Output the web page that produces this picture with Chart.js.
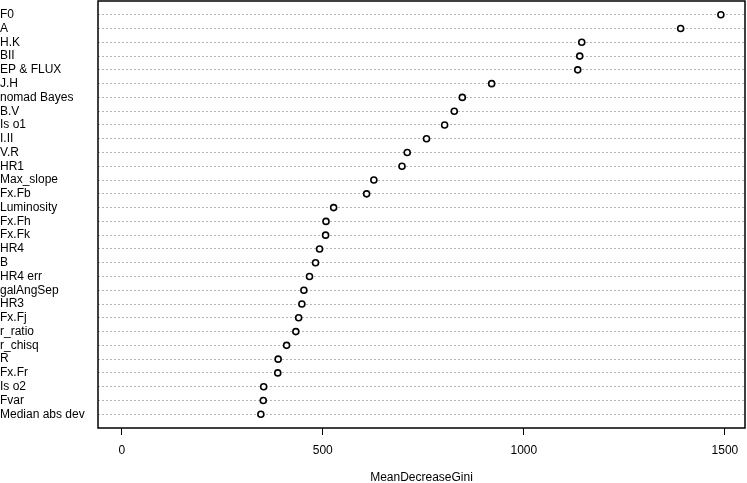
<!DOCTYPE html>
<html>
<head>
<meta charset="utf-8">
<script src="https://cdn.jsdelivr.net/npm/chart.js@4"></script>
<style>body{margin:0;background:#fff}</style>
</head>
<body>
<canvas id="gini" width="747" height="483"></canvas>
<script>
// variables de arriba hacia abajo, como en el dotchart
const variables = ['F0', 'A', 'H.K', 'BII', 'EP & FLUX', 'J.H', 'nomad Bayes', 'B.V', 'Is o1', 'I.II',
    'V.R', 'HR1', 'Max_slope', 'Fx.Fb', 'Luminosity', 'Fx.Fh', 'Fx.Fk', 'HR4', 'B', 'HR4 err',
    'galAngSep', 'HR3', 'Fx.Fj', 'r_ratio', 'r_chisq', 'R', 'Fx.Fr', 'Is o2', 'Fvar', 'Median abs dev']
const gini = [1490, 1390, 1144, 1139, 1134, 920, 847, 827, 803, 758,
    710, 697, 627, 609, 527, 508, 507, 492, 482, 467,
    453, 448, 440, 433, 410, 389, 388, 353, 352, 346]
const xTicks = [0, 500, 1000, 1500]
const xTitle = 'MeanDecreaseGini'

const n = variables.length
const puntos = variables.map((v, i) => ({ x: gini[i], y: n - i }))

// caja alrededor del area del grafico
const marco = {
    id: 'marco',
    afterDraw(chart) {
        const { ctx, chartArea: a } = chart
        ctx.save()
        ctx.strokeStyle = '#000'
        ctx.lineWidth = 1.5
        ctx.strokeRect(a.left, a.top, a.right - a.left, a.bottom - a.top)
        ctx.restore()
    }
}

Chart.defaults.font.family = '"Liberation Sans", Arial, sans-serif'
Chart.defaults.font.size = 12
Chart.defaults.color = '#000'

new Chart(document.getElementById('gini'), {
    type: 'scatter',
    data: {
        datasets: [{
            data: puntos,
            pointStyle: 'circle',
            pointRadius: 3,
            pointBorderWidth: 1.6,
            pointBorderColor: '#000',
            pointBackgroundColor: '#fff'
        }]
    },
    options: {
        responsive: false,
        animation: false,
        layout: { autoPadding: false, padding: { top: 1, right: 2, left: 0, bottom: 0 } },
        plugins: { legend: { display: false }, tooltip: { enabled: false } },
        scales: {
            x: {
                type: 'linear',
                min: -59,
                max: 1550,
                afterBuildTicks: s => { s.ticks = xTicks.map(v => ({ value: v })) },
                afterFit: s => { s.height = 55; s.paddingLeft = 0; s.paddingRight = 0 },
                grid: { drawOnChartArea: false, drawTicks: true, tickLength: 7, color: '#000', lineWidth: 1 },
                border: { display: false },
                ticks: { padding: 8, maxRotation: 0, callback: v => String(v) },
                title: { display: true, text: xTitle, padding: { top: 0, bottom: -2 } }
            },
            y: {
                type: 'linear',
                min: 0,
                max: n + 1,
                afterBuildTicks: s => {
                    const t = []
                    for (let i = 1; i <= n; i++) t.push({ value: i })
                    s.ticks = t
                },
                afterFit: s => { s.width = 98; s.paddingTop = 0; s.paddingBottom = 0 },
                grid: { drawTicks: false, lineWidth: 1, color: '#b4b4b4' },
                border: { display: false, dash: [2, 2] },
                ticks: {
                    autoSkip: false,
                    crossAlign: 'far',
                    padding: 4,
                    callback: v => variables[n - v]
                }
            }
        }
    },
    plugins: [marco]
})
</script>
</body>
</html>
